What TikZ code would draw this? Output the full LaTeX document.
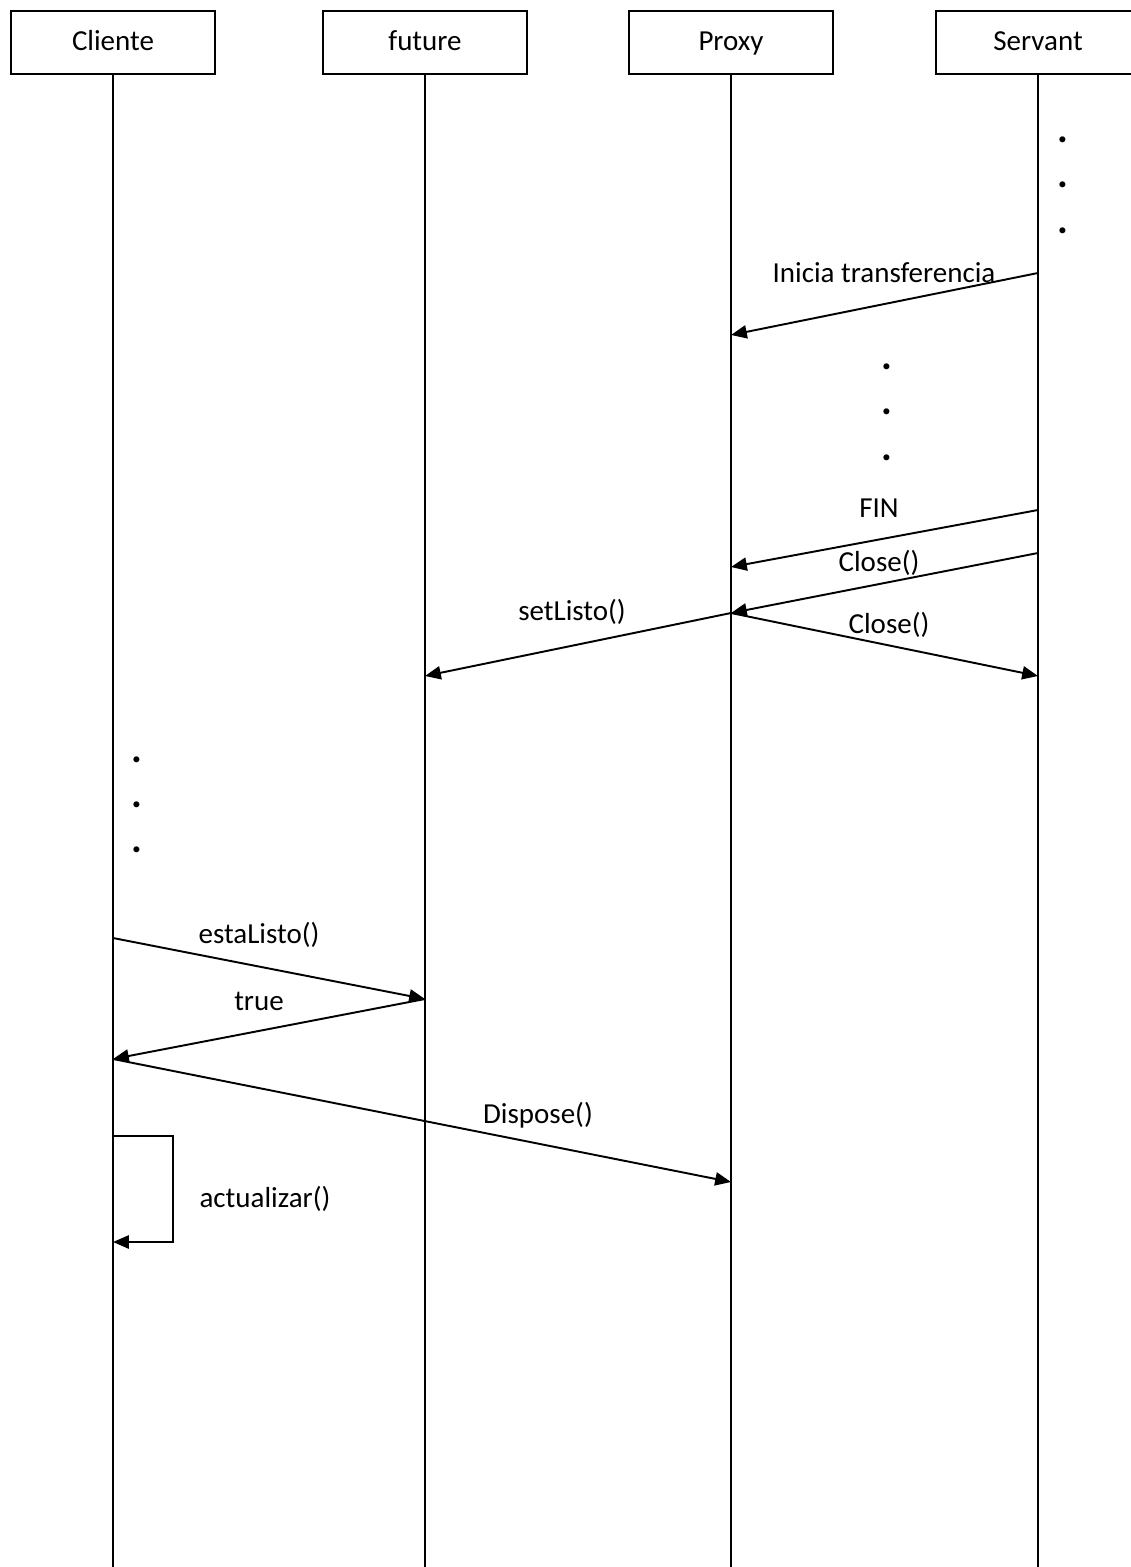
\documentclass[tikz,border=0pt]{standalone}
\usepackage{fontspec}
\setmainfont{Carlito}
\usetikzlibrary{positioning,arrows.meta}

\begin{document}
\begin{tikzpicture}[x=0.02cm, y=-0.02cm,
	obj/.style={
		draw, line width=1.1pt, minimum width=4.08cm, minimum height=1.26cm,
		font=\fontsize{16.5}{18}\selectfont, anchor=north, inner sep=0pt,
		text height=12.5pt, text depth=3pt
	},
	life/.style={line width=1.1pt},
	msg/.style={line width=1.1pt, -{Triangle[length=9pt, width=7.5pt]}},
	lbl/.style={font=\fontsize{16.5}{18}\selectfont, inner sep=0pt, anchor=base},
	pt/.style={font=\fontsize{23}{25}\selectfont\bfseries, inner sep=0pt, anchor=base}
	]
	\useasboundingbox (0,0) rectangle (1130,1567);
	
	% objetos
	\node[obj] (cli) at (113,10) {Cliente};
	\node[obj] (fut) at (425,10) {future};
	\node[obj] (prx) at (731,10) {Proxy};
	\node[obj] (srv) at (1038,10) {Servant};
	
	% lineas de vida
	\coordinate (bot) at (0,1567);
	\foreach \n in {cli,fut,prx,srv} {
		\draw[life] (\n.south) -- (\n.south |- bot);
	}
	
	% puntos suspensivos
	\foreach \y [count=\i] in {143,188,234} {
		\node[pt] (srv-p\i) at (1063,\y) {.};
	}
	\foreach \y [count=\i] in {370,415,460} {
		\node[pt] (prx-p\i) at (887,\y) {.};
	}
	\foreach \y [count=\i] in {762,807,852} {
		\node[pt] (cli-p\i) at (137,\y) {.};
	}
	
	% puntos de los mensajes
	\coordinate (srv-a) at (1038,273);
	\coordinate (prx-a) at (731,335);
	\coordinate (srv-b) at (1038,510);
	\coordinate (prx-b) at (731,567);
	\coordinate (srv-c) at (1038,553);
	\coordinate (prx-c) at (731,613);
	\coordinate (srv-d) at (1038,676);
	\coordinate (fut-d) at (425,676);
	\coordinate (cli-e) at (113,938);
	\coordinate (fut-e) at (425,999);
	\coordinate (cli-f) at (113,1059);
	\coordinate (prx-g) at (731,1182);
	\coordinate (cli-h) at (113,1136);
	\coordinate (cli-i) at (113,1242);
	
	% mensajes
	\draw[msg] (srv-a) -- (prx-a);
	\draw[msg] (srv-b) -- (prx-b);
	\draw[msg] (srv-c) -- (prx-c);
	\draw[msg] (prx-c) -- (srv-d);
	\draw[msg] (prx-c) -- (fut-d);
	\draw[msg] (cli-e) -- (fut-e);
	\draw[msg] (fut-e) -- (cli-f);
	\draw[msg] (cli-f) -- (prx-g);
	\draw[msg] (cli-h) -- ++(60,0) |- (cli-i);
	
	% etiquetas
	\node[lbl] (l-ini) at (884,283) {Inicia transferencia};
	\node[lbl] (l-fin) at (879,517) {FIN};
	\node[lbl] (l-cl1) at (879,571) {Close()};
	\node[lbl] (l-cl2) at (889,633) {Close()};
	\node[lbl] (l-set) at (572,620) {setListo()};
	\node[lbl] (l-est) at (259,943) {estaListo()};
	\node[lbl] (l-tru) at (259,1010) {true};
	\node[lbl] (l-dis) at (538,1123) {Dispose()};
	\node[lbl] (l-act) at (265,1207) {actualizar()};
\end{tikzpicture}
\end{document}
